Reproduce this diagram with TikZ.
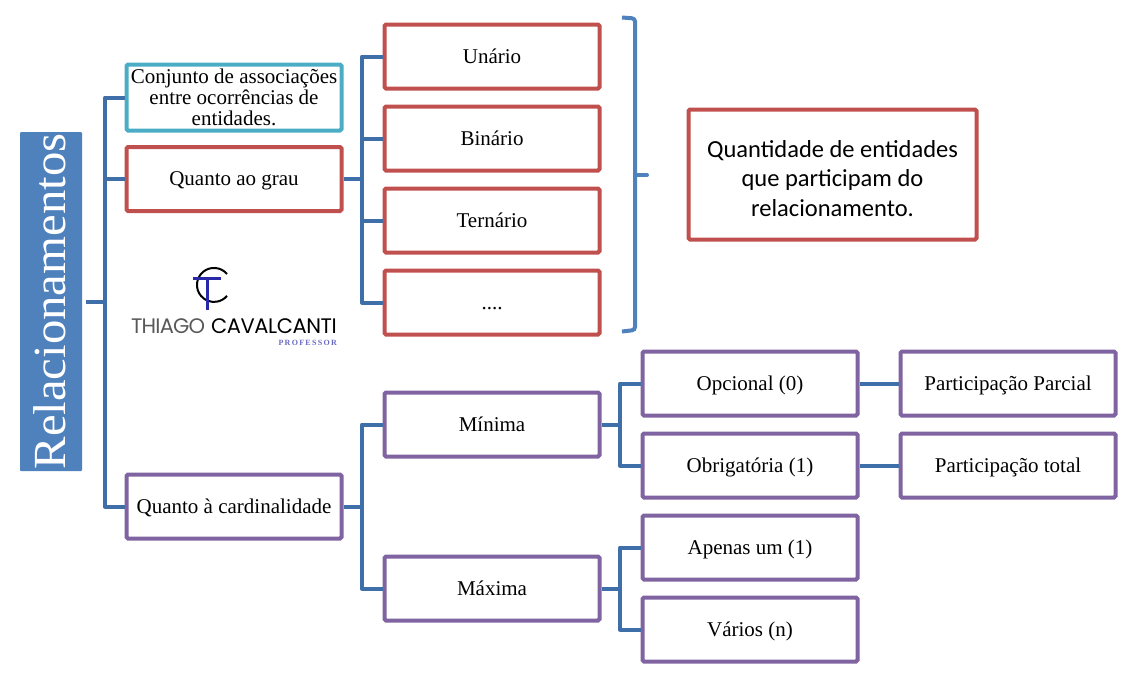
\documentclass[tikz,border=0pt]{standalone}
\usepackage{fontspec}
\setmainfont{Liberation Serif}
\setsansfont{Carlito}
\newfontfamily\logofont{Poppins}
\usetikzlibrary{positioning}
\definecolor{azul}{HTML}{3F6FA8}
\definecolor{azulclaro}{HTML}{4F81BD}
\definecolor{teal}{HTML}{4BACC6}
\definecolor{vermelho}{HTML}{C0504D}
\definecolor{roxo}{HTML}{8064A2}
\definecolor{logoazul}{HTML}{2A2AA8}
\begin{document}
\begin{tikzpicture}[x=1pt,y=-1pt,node distance = {14pt},
  caixa/.style = {draw, line width=4pt, rounded corners=1.5pt, minimum width=215pt, minimum height=64pt, inner sep=0pt, align=center, text height=17pt, text depth=4pt, font=\fontsize{21}{24}\selectfont},
  grau/.style = {caixa, draw=vermelho},
  card/.style = {caixa, draw=roxo},
  conn/.style = {draw=azul, line width=4pt, line join=round}]
  \useasboundingbox (0,0) rectangle (1128,678);
  \node[fill=azulclaro, rounded corners=1pt, minimum width=62pt, minimum height=339pt, inner sep=0pt](rel) at (51,301.5) {};
  \node[rotate=90, xscale=1.06, text=white, font=\fontsize{46}{50}\selectfont](reltxt) at (50,301.5) {Relacionamentos};
  \node[caixa, draw=teal, minimum height=66pt, text height=, text depth=, font=\fontsize{21}{21}\selectfont](conj) at (234,97.5) {Conjunto de associações\\entre ocorrências de\\entidades.};
  \node[grau](qgrau) at (234,179) {Quanto ao grau};
  \node[card](qcard) at (234,506.5) {Quanto à cardinalidade};
  \node[grau](unario) at (492,56.5) {Unário};
  \node[grau](binario)[below=of unario] {Binário};
  \node[grau](ternario)[below=of binario] {Ternário};
  \node[grau](etc)[below=of ternario] {....};
  \node[grau, minimum width=288pt, minimum height=130pt, text height=, text depth=, font=\sffamily\fontsize{24.5}{29.5}\selectfont](quant) at (832.5,174.5) {\rule{0pt}{25pt}Quantidade de entidades\\que participam do\\relacionamento.};
  \node[card](minima) at (492,424.5) {Mínima};
  \node[card](maxima) at (492,588.5) {Máxima};
  \node[card](opcional) at (750,383.5) {Opcional (0)};
  \node[card](obrig)[below=of opcional] {Obrigatória (1)};
  \node[card](apenas)[below=of obrig] {Apenas um (1)};
  \node[card](varios)[below=of apenas] {Vários (n)};
  \node[card](parcial)[right=39pt of opcional] {Participação Parcial};
  \node[card](total)[right=39pt of obrig] {Participação total};
  % conectores
  \coordinate (tronco) at (105,301.5);
  \coordinate (tgrau) at (362,179);
  \coordinate (tcard) at (362,506.5);
  \coordinate (tmin) at (620,424.5);
  \coordinate (tmax) at (620,588.5);
  \draw[conn, shorten <=4pt] (rel.east) -- (tronco);
  \draw[conn] (tronco) |- (conj.west);
  \draw[conn] (tronco) |- (qgrau.west);
  \draw[conn] (tronco) |- (qcard.west);
  \draw[conn] (qgrau.east) -- (tgrau);
  \draw[conn] (tgrau) |- (unario.west);
  \draw[conn] (tgrau) |- (binario.west);
  \draw[conn] (tgrau) |- (ternario.west);
  \draw[conn] (tgrau) |- (etc.west);
  \draw[conn] (qcard.east) -- (tcard);
  \draw[conn] (tcard) |- (minima.west);
  \draw[conn] (tcard) |- (maxima.west);
  \draw[conn] (minima.east) -- (tmin);
  \draw[conn] (tmin) |- (opcional.west);
  \draw[conn] (tmin) |- (obrig.west);
  \draw[conn] (maxima.east) -- (tmax);
  \draw[conn] (tmax) |- (apenas.west);
  \draw[conn] (tmax) |- (varios.west);
  \draw[conn] (opcional) -- (parcial);
  \draw[conn] (obrig) -- (total);
  % chave
  \draw[draw=azulclaro, line width=4pt, rounded corners=3pt] (622,17.5) -- (635,18.5) -- (635,330) -- (622,331.5);
  \coordinate (chave) at (635,175);
  \draw[draw=azulclaro, line width=4pt, line cap=round] (chave) -- (647,175);
  % logo
  \draw[black, line width=2pt] (227,274) arc (40:320:17pt);
  \draw[logoazul, line width=3pt] (193,278.5) -- (221,278.5);
  \draw[logoazul, line width=3pt] (207,278.5) -- (207,310);
  \node[text=black!65, font=\logofont\fontsize{21}{21}\selectfont, inner sep=0pt, anchor=west](logoa) at (131,326) {\addfontfeature{LetterSpace=-4}THIAGO};
  \node[text=black, font=\logofont\fontsize{21}{21}\selectfont, inner sep=0pt, anchor=east](logob) at (337,326) {\addfontfeature{LetterSpace=-2}CAVALCANTI};
  \node[text=logoazul!70, font=\fontsize{8}{8}\selectfont\bfseries, inner sep=0pt, anchor=east](logoc) at (337,343) {\addfontfeature{LetterSpace=16}PROFESSOR};
\end{tikzpicture}
\end{document}
